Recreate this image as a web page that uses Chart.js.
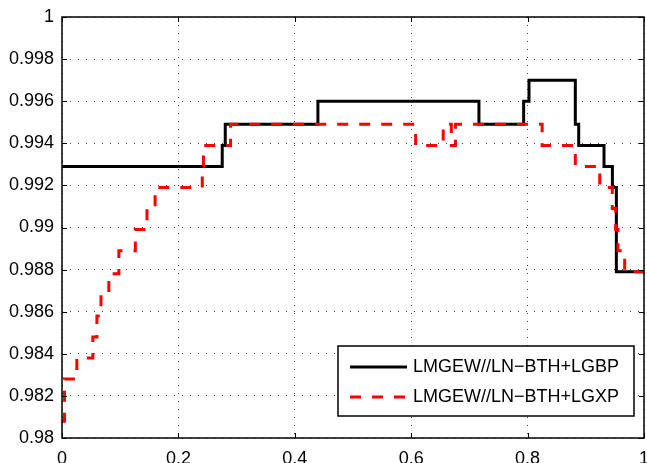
<!DOCTYPE html>
<html>
<head>
<meta charset="utf-8">
<script src="https://cdn.jsdelivr.net/npm/chart.js@4/dist/chart.umd.min.js"></script>
<style>
  html, body { margin: 0; padding: 0; background: #fff; }
  #wrap { width: 647px; height: 463px; }
</style>
</head>
<body>
<div id="wrap"><canvas id="chart"></canvas></div>
<script>
// step points: x where the level changes, y = new level
const gbpX = [0, 0.2753, 0.2805, 0.4397, 0.7164, 0.7932, 0.8024, 0.882, 0.8878, 0.9313, 0.9457, 0.9525, 1];
const gbpY = [0.9929, 0.9939, 0.9949, 0.9960, 0.9949, 0.9960, 0.9970, 0.9949, 0.9939, 0.9929, 0.9919, 0.9879, 0.9879];

const gxpX = [0, 0.0043, 0.0255, 0.053, 0.060, 0.067, 0.0805, 0.0977, 0.126, 0.146, 0.160, 0.241, 0.243, 0.2896,
  0.6076, 0.655, 0.669, 0.676, 0.825, 0.882, 0.924, 0.9455, 0.9513, 0.9553, 0.9668, 1];
const gxpY = [0.9808, 0.9828, 0.9838, 0.9848, 0.9858, 0.9868, 0.9878, 0.9889, 0.9899, 0.9909, 0.9919, 0.9929, 0.9939, 0.9949,
  0.9939, 0.9949, 0.9939, 0.9949, 0.9939, 0.9929, 0.9919, 0.9909, 0.9899, 0.9889, 0.9879, 0.9879];

const xTicks = [0, 0.2, 0.4, 0.6, 0.8, 1];
const yTicks = [0.98, 0.982, 0.984, 0.986, 0.988, 0.99, 0.992, 0.994, 0.996, 0.998, 1];

const seriesNames = ["LMGEW//LN\u2212BTH+LGBP", "LMGEW//LN\u2212BTH+LGXP"];

const FONT = "'Liberation Sans', Arial, sans-serif";

const toPts = (xs, ys) => xs.map((x, i) => ({ x, y: ys[i] }));
const fmt = (v) => String(Number(v.toFixed(3)));

// box, inward ticks and the legend drawn the matlab way
const matlabFrame = {
  id: "matlabFrame",
  afterDatasetsDraw(chart) {
    const { ctx, chartArea: a, scales } = chart;
    ctx.save();
    ctx.strokeStyle = "#000";
    ctx.lineWidth = 1;
    const tl = 5;
    ctx.beginPath();
    xTicks.forEach((t) => {
      const px = Math.round(scales.x.getPixelForValue(t)) + 0.5;
      ctx.moveTo(px, a.bottom); ctx.lineTo(px, a.bottom - tl);
      ctx.moveTo(px, a.top); ctx.lineTo(px, a.top + tl);
    });
    yTicks.forEach((t) => {
      const py = Math.round(scales.y.getPixelForValue(t)) + 0.5;
      ctx.moveTo(a.left, py); ctx.lineTo(a.left + tl, py);
      ctx.moveTo(a.right, py); ctx.lineTo(a.right - tl, py);
    });
    ctx.stroke();
    ctx.lineWidth = 1.5;
    ctx.strokeRect(a.left, a.top, a.right - a.left, a.bottom - a.top);

    // legend
    const lx = 338, ly = 346, lw = 296, lh = 70;
    ctx.fillStyle = "#fff";
    ctx.fillRect(lx, ly, lw, lh);
    ctx.lineWidth = 1.5;
    ctx.strokeRect(lx, ly, lw, lh);
    ctx.font = "18px " + FONT;
    ctx.textBaseline = "middle";
    chart.data.datasets.forEach((ds, i) => {
      const y = ly + 21 + i * 30;
      ctx.beginPath();
      ctx.strokeStyle = ds.borderColor;
      ctx.lineWidth = ds.borderWidth;
      ctx.setLineDash(ds.borderDash || []);
      ctx.moveTo(350, y); ctx.lineTo(407, y);
      ctx.stroke();
      ctx.setLineDash([]);
      ctx.fillStyle = "#000";
      ctx.fillText(ds.label, 413, y);
    });
    ctx.restore();
  },
};

new Chart(document.getElementById("chart"), {
  type: "line",
  data: {
    datasets: [
      {
        label: seriesNames[0],
        data: toPts(gbpX, gbpY),
        borderColor: "#000",
        borderWidth: 3,
        stepped: "before",
        pointRadius: 0,
        order: 1,
      },
      {
        label: seriesNames[1],
        data: toPts(gxpX, gxpY),
        borderColor: "#ff0000",
        borderWidth: 3,
        borderDash: [11, 11],
        borderCapStyle: "butt",
        stepped: "before",
        pointRadius: 0,
        order: 0,
      },
    ],
  },
  options: {
    responsive: true,
    maintainAspectRatio: false,
    animation: false,
    layout: { padding: { top: 17, right: 3, left: 0, bottom: 0 } },
    plugins: { legend: { display: false }, tooltip: { enabled: false } },
    scales: {
      x: {
        type: "linear",
        min: 0,
        max: 1,
        afterBuildTicks: (s) => { s.ticks = xTicks.map((v) => ({ value: v })); },
        afterFit: (s) => { s.height = 25; s.paddingLeft = 0; s.paddingRight = 0; },
        grid: { color: "#444", lineWidth: 1, drawTicks: false },
        border: { display: false, dash: [1, 7] },
        ticks: { color: "#000", font: { family: FONT, size: 18 }, padding: 10, maxRotation: 0, callback: (v) => fmt(v) },
      },
      y: {
        type: "linear",
        min: 0.98,
        max: 1,
        afterBuildTicks: (s) => { s.ticks = yTicks.map((v) => ({ value: v })); },
        afterFit: (s) => { s.width = 62; s.paddingTop = 0; s.paddingBottom = 0; },
        grid: { color: "#444", lineWidth: 1, drawTicks: false },
        border: { display: false, dash: [1, 7] },
        ticks: { color: "#000", font: { family: FONT, size: 18 }, padding: 8, callback: (v) => fmt(v) },
      },
    },
  },
  plugins: [matlabFrame],
});
</script>
</body>
</html>
